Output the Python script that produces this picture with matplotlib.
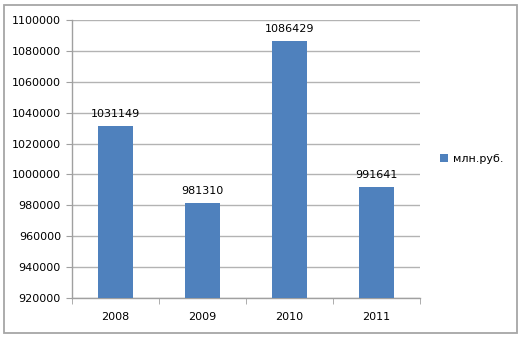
import numpy as np
import matplotlib.pyplot as plt
from matplotlib.patches import Rectangle

years = ["2008", "2009", "2010", "2011"]
values = [1031149, 981310, 1086429, 991641]
series_name = "млн.руб."

plt.rcParams['font.family'] = ['DejaVu Sans']
plt.rcParams['font.size'] = 8

fig = plt.figure(figsize=(5.22, 3.38), dpi=100)
ax = fig.add_axes([72 / 522, 1 - 298 / 338, 348 / 522, 278 / 338])

x = np.arange(len(years))
ax.bar(x, values, width=0.4, color='#4F81BD', label=series_name, zorder=3)
for xi, v in zip(x, values):
    ax.annotate(str(v), (xi, v), xytext=(0, 5), textcoords='offset points',
                ha='center', va='bottom', fontsize=8, zorder=4)

ax.set_xlim(-0.5, len(years) - 0.5)
ax.set_ylim(920000, 1100000)
ticks = list(range(920000, 1100001, 20000))
ax.set_yticks(ticks)
ax.set_yticklabels([str(v) for v in ticks])
ax.yaxis.grid(True, color='#b3b3b3', linewidth=1.0, zorder=0)

ax.set_xticks(x)
ax.set_xticklabels(years)
ax.set_xticks(np.arange(-0.5, len(years)), minor=True)
ax.tick_params(axis='x', which='major', length=0, pad=10)
ax.tick_params(axis='x', which='minor', length=4, color='#a0a0a0', direction='out')
ax.tick_params(axis='y', length=4, color='#a0a0a0', direction='out', pad=4)

for side in ['top', 'right']:
    ax.spines[side].set_visible(False)
for side in ['left', 'bottom']:
    ax.spines[side].set_color('#a0a0a0')
    ax.spines[side].set_linewidth(1.0)

ax.legend(loc='center left', bbox_to_anchor=(1.03, 0.5), frameon=False,
          handlelength=0.7, handleheight=0.7, handletextpad=0.4, fontsize=8)

fig.patches.append(Rectangle((4 / 522, 5 / 338), 513 / 522, 328 / 338,
                             transform=fig.transFigure, fill=False,
                             edgecolor='#a6a6a6', linewidth=1.3))

fig.savefig("out.png", dpi=100, facecolor='w')
